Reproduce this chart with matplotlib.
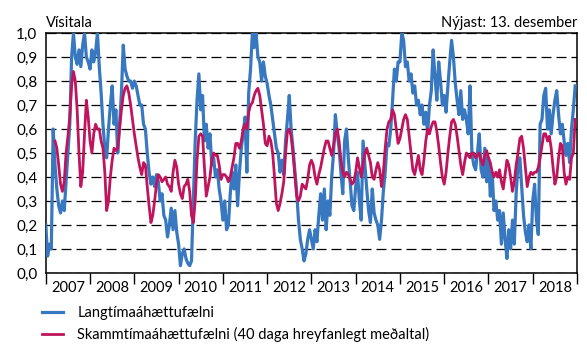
import numpy as np
import matplotlib
matplotlib.use("Agg")
import matplotlib.pyplot as plt
from matplotlib.ticker import FixedLocator, FuncFormatter

plt.rcParams["font.family"] = ["Lato", "DejaVu Sans"]

nan = np.nan

# Langtímaáhættufælni, two readings per month
blue_2007 = [0.20, 0.07, 0.12, 0.10, 0.60, 0.45, 0.35, 0.28, 0.25, 0.30, 0.26, 0.38,
             0.50, 0.62, 0.90, 1.00, 0.90, 0.87, 0.93, 0.86, 0.95, 1.00, 0.90, 0.88]
blue_2008 = [0.85, 0.93, 0.88, 0.92, 1.00, 0.86, 0.75, 0.62, 0.52, 0.48, 0.60, 0.70,
             0.78, 0.62, 0.68, 0.50, 0.62, 0.75, 0.95, 0.85, 0.82, 0.80, 0.80, 0.77]
blue_2009 = [0.80, 0.78, 0.74, 0.70, 0.70, 0.62, 0.60, 0.50, 0.42, 0.37, 0.40, 0.36,
             0.41, 0.38, 0.30, 0.33, 0.24, 0.22, 0.15, 0.20, 0.27, 0.18, 0.26, 0.17]
blue_2010 = [0.12, 0.03, 0.08, 0.10, 0.06, 0.04, 0.03, 0.05, 0.30, 0.55, 0.72, 0.83,
             0.68, 0.74, 0.55, 0.62, 0.52, 0.58, 0.45, 0.48, 0.40, 0.43, 0.35, 0.30]
blue_2011 = [0.22, 0.30, 0.18, 0.20, 0.33, 0.42, 0.35, 0.45, 0.28, 0.42, 0.52, 0.58,
             0.65, 0.42, 0.75, 0.85, 1.00, 0.94, 1.00, 0.90, 0.88, 0.80, 0.88, 0.82]
blue_2012 = [0.79, 0.74, 0.70, 0.64, 0.58, 0.52, 0.50, 0.42, 0.47, 0.41, 0.55, 0.64,
             0.74, 0.60, 0.52, 0.43, 0.34, 0.22, 0.14, 0.10, 0.05, 0.08, 0.14, 0.18]
blue_2013 = [0.14, 0.10, 0.18, 0.13, 0.24, 0.33, 0.22, 0.35, 0.18, 0.30, 0.24, 0.40,
             0.50, 0.66, 0.58, 0.52, 0.42, 0.33, 0.55, 0.60, 0.48, 0.38, 0.28, 0.26]
blue_2014 = [0.36, 0.42, 0.30, 0.22, 0.55, 0.45, 0.35, 0.26, 0.21, 0.35, 0.25, 0.22,
             0.20, 0.14, 0.22, 0.34, 0.42, 0.54, 0.53, 0.60, 0.72, 0.85, 0.80, 0.88]
blue_2015 = [0.88, 1.00, 0.97, 0.86, 0.88, 0.80, 0.83, 0.75, 0.78, 0.70, 0.72, 0.66,
             0.70, 0.62, 0.67, 0.58, 0.70, 0.76, 0.93, 0.82, 0.72, 0.88, 0.80, 0.70]
blue_2016 = [0.74, 0.67, 0.78, 0.88, 0.97, 0.90, 0.79, 0.72, 0.66, 0.76, 0.64, 0.68,
             0.64, 0.58, 0.78, 0.50, 0.45, 0.43, 0.50, 0.58, 0.43, 0.40, 0.52, 0.38]
blue_2017 = [0.48, 0.32, 0.42, 0.26, 0.30, 0.22, 0.26, 0.12, 0.25, 0.14, 0.06, 0.18,
             0.10, 0.22, 0.12, 0.33, 0.45, 0.48, 0.36, 0.24, 0.17, 0.13, 0.20, 0.10]
blue_2018 = [0.30, 0.37, 0.22, 0.16, 0.62, 0.64, 0.74, 0.77, 0.60, 0.68, 0.58, 0.66,
             0.72, 0.76, 0.66, 0.58, 0.62, 0.55, 0.49, 0.54, 0.46, 0.60, 0.68, 0.78]

# Skammtímaáhættufælni (40 daga hreyfanlegt meðaltal)
red_2007 = [nan, nan, nan, nan, nan, 0.55, 0.52, 0.45, 0.37, 0.34, 0.38, 0.50,
            0.57, 0.65, 0.78, 0.84, 0.80, 0.68, 0.50, 0.36, 0.42, 0.58, 0.72, 0.65]
red_2008 = [0.55, 0.50, 0.58, 0.62, 0.60, 0.60, 0.55, 0.52, 0.42, 0.26, 0.30, 0.40,
            0.47, 0.52, 0.51, 0.52, 0.60, 0.68, 0.74, 0.77, 0.78, 0.75, 0.70, 0.64]
red_2009 = [0.58, 0.53, 0.48, 0.44, 0.41, 0.46, 0.45, 0.36, 0.28, 0.21, 0.24, 0.30,
            0.37, 0.41, 0.40, 0.38, 0.39, 0.40, 0.37, 0.36, 0.34, 0.42, 0.47, 0.44]
red_2010 = [0.37, 0.33, 0.31, 0.36, 0.37, 0.39, 0.34, 0.24, 0.21, 0.30, 0.47, 0.57,
            0.58, 0.57, 0.44, 0.32, 0.36, 0.40, 0.47, 0.50, 0.49, 0.49, 0.45, 0.39]
red_2011 = [0.41, 0.41, 0.40, 0.38, 0.40, 0.44, 0.48, 0.54, 0.54, 0.52, 0.55, 0.60,
            0.62, 0.60, 0.67, 0.70, 0.71, 0.74, 0.76, 0.77, 0.74, 0.68, 0.62, 0.54]
red_2012 = [0.53, 0.57, 0.55, 0.50, 0.40, 0.29, 0.26, 0.29, 0.33, 0.38, 0.50, 0.59,
            0.60, 0.57, 0.50, 0.41, 0.32, 0.30, 0.32, 0.37, 0.36, 0.35, 0.39, 0.45]
red_2013 = [0.47, 0.45, 0.40, 0.37, 0.41, 0.44, 0.48, 0.52, 0.55, 0.55, 0.52, 0.49,
            0.53, 0.58, 0.60, 0.55, 0.47, 0.42, 0.40, 0.42, 0.41, 0.39, 0.37, 0.38]
red_2014 = [0.42, 0.48, 0.44, 0.40, 0.45, 0.50, 0.52, 0.49, 0.46, 0.40, 0.39, 0.43,
            0.46, 0.43, 0.36, 0.42, 0.52, 0.60, 0.63, 0.64, 0.68, 0.66, 0.60, 0.54]
red_2015 = [0.56, 0.60, 0.64, 0.66, 0.64, 0.57, 0.50, 0.43, 0.41, 0.45, 0.49, 0.43,
            0.41, 0.47, 0.55, 0.60, 0.58, 0.61, 0.63, 0.63, 0.59, 0.53, 0.46, 0.40]
red_2016 = [0.37, 0.42, 0.50, 0.57, 0.63, 0.64, 0.62, 0.57, 0.51, 0.45, 0.41, 0.46,
            0.50, 0.49, 0.48, 0.50, 0.50, 0.48, 0.49, 0.50, 0.47, 0.45, 0.49, 0.51]
red_2017 = [0.48, 0.46, 0.42, 0.40, 0.42, 0.40, 0.43, 0.38, 0.35, 0.41, 0.47, 0.45,
            0.40, 0.34, 0.38, 0.45, 0.50, 0.56, 0.57, 0.52, 0.44, 0.36, 0.40, 0.42]
red_2018 = [0.41, 0.42, 0.42, 0.44, 0.48, 0.53, 0.58, 0.58, 0.55, 0.57, 0.52, 0.44,
            0.37, 0.40, 0.48, 0.54, 0.53, 0.42, 0.37, 0.40, 0.39, 0.48, 0.50, 0.64]

years = list(range(2007, 2019))
year_labels = [str(y) for y in years]

blue = np.array(blue_2007 + blue_2008 + blue_2009 + blue_2010 + blue_2011 + blue_2012
                + blue_2013 + blue_2014 + blue_2015 + blue_2016 + blue_2017 + blue_2018)
red = np.array(red_2007 + red_2008 + red_2009 + red_2010 + red_2011 + red_2012
               + red_2013 + red_2014 + red_2015 + red_2016 + red_2017 + red_2018)
t = years[0] + np.arange(len(blue)) / 24

BLUE = "#3878c0"
RED = "#c0145c"

fig = plt.figure(figsize=(5.87, 3.45), dpi=100)
ax = fig.add_axes([0.078, 0.209, 0.905, 0.695])

ax.plot(t, blue, color=BLUE, lw=2.3, label="Langtímaáhættufælni", zorder=3)
ax.plot(t, red, color=RED, lw=2.0,
        label="Skammtímaáhættufælni (40 daga hreyfanlegt meðaltal)", zorder=4)

ax.set_xlim(2007, 2019)
ax.set_ylim(0, 1.0)

ax.set_yticks(np.arange(0, 1.01, 0.1))
ax.yaxis.set_major_formatter(FuncFormatter(lambda v, p: f"{v:.1f}".replace(".", ",")))
ax.tick_params(axis="y", length=0, pad=6, labelsize=11)

ax.xaxis.set_major_locator(FixedLocator(years + [2019]))
ax.xaxis.set_minor_locator(FixedLocator([y + 0.5 for y in years]))
ax.set_xticklabels([], minor=False)
ax.set_xticklabels(year_labels, minor=True)
ax.tick_params(axis="x", which="major", length=8, width=1, direction="out")
ax.tick_params(axis="x", which="minor", length=0, pad=6, labelsize=10.5)

ax.yaxis.grid(True, color="black", lw=0.9, linestyle=(0, (8, 4)), zorder=1)
ax.xaxis.grid(False)
for s in ax.spines.values():
    s.set_linewidth(1.1)

fig.text(0.079, 0.921, "Vísitala", fontsize=10.5, ha="left", va="baseline")
fig.text(0.983, 0.921, "Nýjast: 13. desember", fontsize=10.5, ha="right", va="baseline")

fig.legend(loc="upper left", bbox_to_anchor=(0.072, 0.113), frameon=False,
           fontsize=10.5, handlelength=1.4, handletextpad=1.0, labelspacing=0.5,
           borderpad=0, borderaxespad=0)

fig.savefig("out.png", dpi=100)
